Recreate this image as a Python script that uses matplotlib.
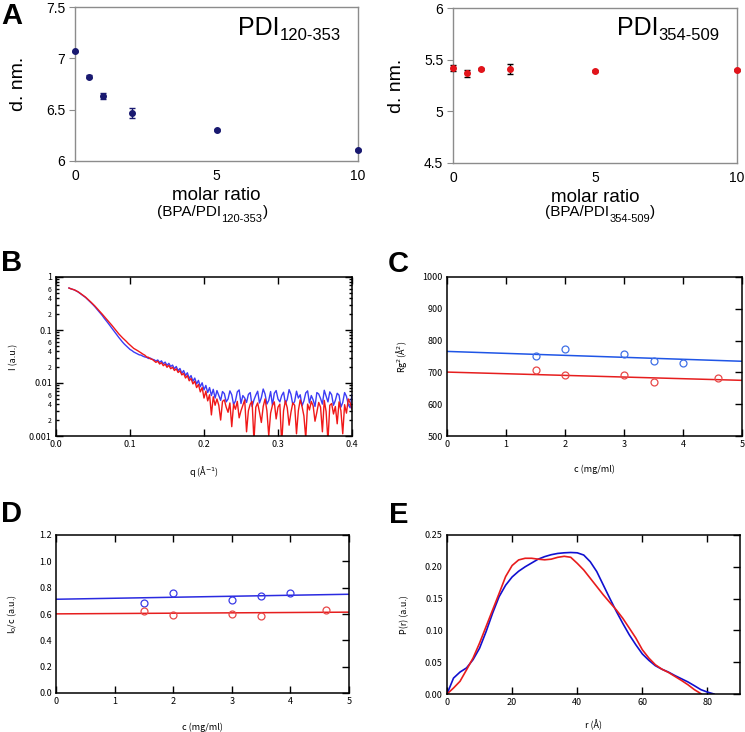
import matplotlib
matplotlib.use('Agg')
import matplotlib.pyplot as plt
from matplotlib.ticker import FixedLocator, FuncFormatter, LogLocator
import numpy as np

plt.rcParams['font.family'] = ['Liberation Sans', 'DejaVu Sans']

# ---- panel A: DLS diameters vs molar ratio ----
ratio = [0, 0.5, 1, 2, 5, 10]
d_120 = [7.07, 6.82, 6.63, 6.47, 6.30, 6.11]
d_120_err = [0.006, 0.015, 0.03, 0.05, 0.01, 0.01]
d_354 = [5.42, 5.37, 5.41, 5.41, 5.39, 5.40]
d_354_err = [0.028, 0.034, 0.01, 0.05, 0.008, 0.01]

# ---- panel B: SAXS curves, q grid 0.0175 .. 0.4 ----
q_start, q_end = 0.0175, 0.4
I_blue = [0.62, 0.60, 0.585, 0.57, 0.545, 0.52, 0.49, 0.46, 0.435, 0.41,
          0.38, 0.35, 0.325, 0.30, 0.275, 0.25, 0.228, 0.208, 0.188, 0.168,
          0.152, 0.137, 0.123, 0.111, 0.099, 0.089, 0.080, 0.072, 0.065, 0.059,
          0.054, 0.050, 0.046, 0.043, 0.041, 0.0385, 0.037, 0.0355, 0.034, 0.0335,
          0.032, 0.031, 0.0305, 0.029, 0.0295, 0.028, 0.0275, 0.026, 0.0272, 0.0245,
          0.0262, 0.023, 0.0248, 0.0215, 0.0235, 0.0205, 0.0218, 0.0185, 0.0205, 0.017,
          0.0188, 0.0152, 0.0172, 0.0138, 0.0156, 0.0122, 0.0138, 0.0108, 0.0124, 0.0096,
          0.0112, 0.0085, 0.0101, 0.0074, 0.0090, 0.0066, 0.0082, 0.0058, 0.0076, 0.0052,
          0.0072, 0.0058, 0.0047, 0.0069, 0.0063, 0.0044, 0.0050, 0.0071, 0.0060, 0.0039,
          0.0046, 0.0068, 0.0074, 0.0041, 0.0058, 0.0052, 0.0043, 0.0061, 0.0066, 0.0036,
          0.0048, 0.0059, 0.0070, 0.0042, 0.0053, 0.0077, 0.0062, 0.0040, 0.0047, 0.0069,
          0.0038, 0.0064, 0.0072, 0.0050, 0.0044, 0.0058, 0.0067, 0.0041, 0.0049, 0.0075,
          0.0061, 0.0039, 0.0045, 0.0070, 0.0052, 0.0060, 0.0037, 0.0046, 0.0065, 0.0071,
          0.0042, 0.0058, 0.0048, 0.0036, 0.0066, 0.0062, 0.0051, 0.0040, 0.0073, 0.0057,
          0.0044, 0.0068, 0.0060, 0.0038, 0.0047, 0.0064, 0.0059, 0.0035, 0.0043, 0.0066,
          0.0056, 0.0039, 0.0034, 0.0060]
I_red = [0.62, 0.60, 0.585, 0.57, 0.548, 0.525, 0.497, 0.468, 0.442, 0.416,
         0.387, 0.358, 0.333, 0.308, 0.284, 0.260, 0.238, 0.218, 0.199, 0.181,
         0.165, 0.150, 0.137, 0.125, 0.113, 0.102, 0.092, 0.084, 0.077, 0.071,
         0.066, 0.061, 0.056, 0.052, 0.048, 0.045, 0.043, 0.041, 0.039, 0.037,
         0.035, 0.0335, 0.031, 0.0305, 0.0285, 0.028, 0.0262, 0.0245, 0.0258, 0.0228,
         0.0242, 0.0212, 0.0228, 0.0198, 0.0215, 0.0186, 0.0198, 0.0172, 0.0185, 0.0158,
         0.0170, 0.0142, 0.0152, 0.0124, 0.0138, 0.0110, 0.0122, 0.0096, 0.0108, 0.0082,
         0.0094, 0.0068, 0.0082, 0.0052, 0.0070, 0.0046, 0.0060, 0.0025, 0.0055, 0.0038,
         0.0050, 0.0038, 0.0020, 0.0045, 0.0048, 0.0035, 0.0028, 0.0042, 0.0015, 0.0040,
         0.0032, 0.0045, 0.0022, 0.0030, 0.0038, 0.0048, 0.0012, 0.0030, 0.0040, 0.0045,
         0.0008, 0.0035, 0.0042, 0.0028, 0.0018, 0.0036, 0.0050, 0.0030, 0.0010, 0.0027,
         0.0038, 0.0044, 0.0021, 0.0035, 0.0040, 0.0007, 0.0030, 0.0046, 0.0034, 0.0016,
         0.0028, 0.0042, 0.0038, 0.0011, 0.0030, 0.0048, 0.0036, 0.0024, 0.0009, 0.0040,
         0.0031, 0.0045, 0.0037, 0.0019, 0.0028, 0.0043, 0.0035, 0.0012, 0.0047, 0.0029,
         0.0008, 0.0038, 0.0041, 0.0026, 0.0036, 0.0017, 0.0044, 0.0030, 0.0011, 0.0039,
         0.0027, 0.0050, 0.0042, 0.0032]

# ---- panels C, D: concentration series ----
conc_blue = [1.5, 2, 3, 3.5, 4]
conc_red = [1.5, 2, 3, 3.5, 4.6]
rg2_blue = [752, 773, 757, 735, 730]
rg2_red = [709, 692, 692, 671, 682]
i0_blue = [0.682, 0.763, 0.707, 0.740, 0.758]
i0_red = [0.624, 0.591, 0.599, 0.586, 0.632]
conc_fit = [0, 5]
rg2_blue_fit = [766, 735]
rg2_red_fit = [701, 675]
i0_blue_fit = [0.712, 0.750]
i0_red_fit = [0.601, 0.614]

# ---- panel E: pair distance distributions ----
r_blue = list(range(0, 84, 2))
p_blue = [0, 0.025, 0.0345, 0.041, 0.054, 0.072, 0.098, 0.127, 0.153, 0.171,
          0.184, 0.193, 0.200, 0.206, 0.212, 0.216, 0.219, 0.221, 0.222, 0.2225,
          0.222, 0.2185, 0.208, 0.1925, 0.1715, 0.1505, 0.130, 0.111, 0.093, 0.0774,
          0.063, 0.053, 0.0445, 0.039, 0.0345, 0.029, 0.024, 0.019, 0.013, 0.0068,
          0.003, 0.0]
r_red = list(range(0, 80, 2))
p_red = [0, 0.0094, 0.020, 0.038, 0.0565, 0.080, 0.106, 0.132, 0.158, 0.1846,
         0.202, 0.2108, 0.2134, 0.2134, 0.212, 0.211, 0.212, 0.2149, 0.2165, 0.215,
         0.2055, 0.195, 0.182, 0.169, 0.156, 0.144, 0.1323, 0.119, 0.1036, 0.088,
         0.0696, 0.0565, 0.046, 0.039, 0.034, 0.0277, 0.0214, 0.0146, 0.0068, 0.0005]

W, H = 745, 732
fig = plt.figure(figsize=(W / 100, H / 100), dpi=100)


def px_axes(x0, y0, x1, y1):
    return fig.add_axes([x0 / W, 1 - y1 / H, (x1 - x0) / W, (y1 - y0) / H])


jp = ['Noto Sans CJK JP', 'DejaVu Sans']
navy = '#191970'
red_a = '#e3141b'
grey = '#8c8c8c'


def panel_a(ax, y, err, col, ecol, ylim, yticks, ylabels, sub, name_x, sub_x):
    ax.errorbar(ratio, y, yerr=err, fmt='o', ms=4, color=col, ecolor=ecol,
                elinewidth=1, capsize=2.5, capthick=1, clip_on=False, zorder=3)
    ax.set_xlim(0, 10)
    ax.set_ylim(*ylim)
    ax.set_xticks([0, 5, 10])
    ax.set_yticks(yticks)
    ax.set_yticklabels(ylabels)
    for s in ax.spines.values():
        s.set_color(grey)
        s.set_linewidth(1)
    ax.tick_params(axis='y', length=4, color=grey, labelsize=10, pad=3)
    ax.tick_params(axis='x', length=0, labelsize=10, pad=6)
    ax.set_ylabel('d. nm.', fontsize=14)
    ax.yaxis.set_label_coords(-0.17, 0.5)
    ax.set_xlabel('molar ratio', fontsize=13.5)
    ax.xaxis.set_label_coords(0.5, -0.222)
    ax.xaxis.label.set_va('center')
    # big name inside the plot
    t = fig.text(name_x / W, 1 - 35 / H, 'PDI', fontsize=18, va='baseline')
    ax.annotate(sub, xy=(1, 0), xycoords=t, va='baseline', ha='left', fontsize=12)
    # sub label under the x label
    m = fig.text(sub_x / W, 1 - 216 / H, '(BPA/PDI', fontsize=11, va='baseline')
    s = ax.annotate(sub, xy=(1, 0), xycoords=m, xytext=(0.3, -2.5),
                    textcoords='offset points', va='baseline', ha='left', fontsize=8)
    ax.annotate(')', xy=(1, 0), xycoords=(s, m), va='bottom', ha='left', fontsize=11)


axA1 = px_axes(75, 7, 358, 161)
panel_a(axA1, d_120, d_120_err, navy, navy, (6, 7.5), [6, 6.5, 7, 7.5],
        ['6', '6.5', '7', '7.5'], '120-353', 238, 157)
axA2 = px_axes(453, 8, 737, 163)
panel_a(axA2, d_354, d_354_err, red_a, 'black', (4.5, 6), [4.5, 5, 5.5, 6],
        ['4.5', '5', '5.5', '6'], '354-509', 617, 545)


def box_style(ax, left_ticks=False):
    for s in ax.spines.values():
        s.set_linewidth(1.1)
    ax.tick_params(which='both', direction='in', top=True, right=True,
                   left=left_ticks, width=1, labelsize=6.5, labelfontfamily=jp, pad=3)
    ax.tick_params(which='major', length=5)
    ax.tick_params(which='minor', length=2.5)


def set_labels(ax, xl, yl, xpos, ypos):
    ax.set_xlabel(xl, fontsize=6.5, family=jp)
    ax.set_ylabel(yl, fontsize=6.5, family=jp)
    ax.xaxis.set_label_coords(0.5, xpos)
    ax.xaxis.label.set_va('center')
    ax.yaxis.set_label_coords(ypos, 0.5)
    ax.yaxis.label.set_va('center')


# ---- B ----
axB = px_axes(56, 277, 352, 436)
qb = np.linspace(q_start, q_end, len(I_blue))
qr = np.linspace(q_start, q_end, len(I_red))
axB.plot(qb, I_blue, color='#3c3cf5', lw=1.0)
axB.plot(qr, I_red, color='#f01818', lw=1.0)
axB.set_yscale('log')
axB.set_xlim(0, 0.4)
axB.set_ylim(0.001, 1)
axB.set_xticks([0, 0.1, 0.2, 0.3, 0.4])
axB.xaxis.set_major_formatter(FuncFormatter(lambda v, p: f'{v:.1f}'))
axB.yaxis.set_major_locator(FixedLocator([0.001, 0.01, 0.1, 1]))
axB.yaxis.set_major_formatter(FuncFormatter(lambda v, p: f'{v:g}'))
axB.yaxis.set_minor_locator(LogLocator(base=10, subs=range(2, 10), numticks=20))


def minor_fmt(v, p):
    m = round(v / 10 ** np.floor(np.log10(v) + 1e-9))
    return str(m) if m in (2, 4, 6) else ''


axB.yaxis.set_minor_formatter(FuncFormatter(minor_fmt))
box_style(axB, left_ticks=True)
axB.tick_params(axis='y', which='minor', labelsize=5)
set_labels(axB, 'q (Å$^{-1}$)', 'I (a.u.)', -0.226, -0.142)

# ---- C ----
axC = px_axes(447, 277, 742, 436)
axC.plot(conc_fit, rg2_blue_fit, color='#1f55e6', lw=1.1)
axC.plot(conc_fit, rg2_red_fit, color='#e61e1e', lw=1.1)
axC.plot(conc_blue, rg2_blue, 'o', mfc='none', mec='#3f6fe6', ms=5, mew=0.9)
axC.plot(conc_red, rg2_red, 'o', mfc='none', mec='#e84848', ms=5, mew=0.9)
axC.set_xlim(0, 5)
axC.set_ylim(500, 1000)
axC.set_xticks(range(0, 6))
axC.set_yticks(range(500, 1001, 100))
box_style(axC)
set_labels(axC, 'c (mg/ml)', 'Rg$^{2}$(Å$^{2}$)', -0.208, -0.153)

# ---- D ----
axD = px_axes(56, 535, 349, 693)
axD.plot(conc_fit, i0_blue_fit, color='#2a2ae0', lw=1.1)
axD.plot(conc_fit, i0_red_fit, color='#e61e1e', lw=1.1)
axD.plot(conc_blue, i0_blue, 'o', mfc='none', mec='#3a3ae6', ms=5, mew=0.9)
axD.plot(conc_red, i0_red, 'o', mfc='none', mec='#e84848', ms=5, mew=0.9)
axD.set_xlim(0, 5)
axD.set_ylim(0, 1.2)
axD.set_xticks(range(0, 6))
axD.set_yticks(np.arange(0, 1.21, 0.2))
axD.yaxis.set_major_formatter(FuncFormatter(lambda v, p: f'{v:.1f}'))
box_style(axD)
set_labels(axD, 'c (mg/ml)', 'I$_0$/c (a.u.)', -0.215, -0.15)

# ---- E ----
axE = px_axes(447, 535, 740, 694)
axE.plot(r_blue, p_blue, color='#1010d0', lw=1.2)
axE.plot(r_red, p_red, color='#e81c1c', lw=1.2)
axE.set_xlim(0, 90)
axE.set_ylim(0, 0.25)
axE.set_xticks(range(0, 81, 20))
axE.set_yticks(np.arange(0, 0.251, 0.05))
axE.yaxis.set_major_formatter(FuncFormatter(lambda v, p: f'{v:.2f}'))
box_style(axE)
set_labels(axE, 'r (Å)', 'P(r) (a.u.)', -0.195, -0.143)

# panel letters
for letter, x, y in [('A', 1, 16), ('B', 1, 263), ('C', 388, 264),
                     ('D', 1, 514), ('E', 389, 515)]:
    fig.text(x / W, 1 - y / H, letter, fontsize=21, fontweight='bold',
             ha='left', va='center')

fig.savefig('out.png', dpi=100)
